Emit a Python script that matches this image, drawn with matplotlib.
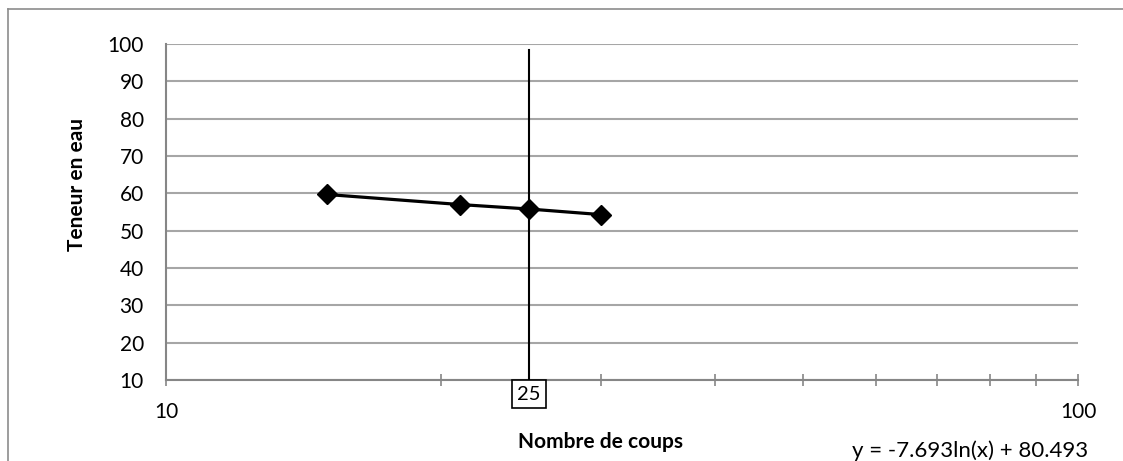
import numpy as np
import matplotlib
matplotlib.use('Agg')
import matplotlib.pyplot as plt
from matplotlib.lines import Line2D
from matplotlib.ticker import FixedLocator, NullFormatter

# data
coups = [15, 21, 25, 30]
teneur = [59.7, 57.0, 55.8, 54.3]
x_limite = 25
y_ticks = [10, 20, 30, 40, 50, 60, 70, 80, 90, 100]
x_major = [10, 100]
x_minor = [20, 25, 30, 40, 50, 60, 70, 80, 90]
equation = 'y = -7.693ln(x) + 80.493'

plt.rcParams['font.family'] = ['Lato', 'DejaVu Sans']

W, H = 1123, 461
fig = plt.figure(figsize=(W / 100, H / 100), dpi=100)
ax = fig.add_axes([166 / W, 1 - 380 / H, (1078 - 166) / W, (380 - 44) / H])

grid_c = '#a6a6a6'
axis_c = '#868686'

ax.set_xscale('log')
ax.set_xlim(10, 100)
ax.set_ylim(10, 100)

ax.set_yticks(y_ticks)
ax.yaxis.grid(True, color=grid_c, linewidth=1.5)
ax.set_axisbelow(True)
ax.tick_params(axis='y', length=0, pad=16, labelsize=15, colors='black')

ax.xaxis.set_major_locator(FixedLocator(x_major))
ax.xaxis.set_minor_locator(FixedLocator([v for v in x_minor if v != x_limite]))
ax.xaxis.set_minor_formatter(NullFormatter())
ax.set_xticklabels([str(v) for v in x_major])
ax.tick_params(axis='x', which='major', direction='inout', length=9, width=1.2, color=axis_c,
               pad=11, labelsize=15)
ax.tick_params(axis='x', which='minor', direction='inout', length=9, width=1.2, color=axis_c)

for s in ['top', 'right']:
    ax.spines[s].set_visible(False)
for s in ['left', 'bottom']:
    ax.spines[s].set_color(axis_c)
    ax.spines[s].set_linewidth(1.5)

ax.plot(coups, teneur, color='black', linewidth=2.3, marker='D', markersize=10,
        markerfacecolor='black', zorder=4)
ax.plot([x_limite, x_limite], [10, 98.5], color='black', linewidth=1.5, zorder=3)

ax.annotate(str(x_limite), xy=(x_limite, 10), xytext=(0, -14), textcoords='offset pixels',
            ha='center', va='center', fontsize=14.5,
            bbox=dict(boxstyle='square,pad=0.25', facecolor='white', edgecolor='black', linewidth=1.2),
            zorder=5, annotation_clip=False)

fig.text(77 / W, 1 - 184 / H, 'Teneur en eau', rotation=90, ha='center', va='center',
         fontsize=15, fontweight='bold')
fig.text(600 / W, 1 - 442 / H, 'Nombre de coups', ha='center', va='center',
         fontsize=15, fontweight='bold')
fig.text(852 / W, 1 - 451 / H, equation, ha='left', va='center', fontsize=16)

# outer chart frame
fig.add_artist(Line2D([8 / W, 8 / W], [0, 1 - 9 / H], color='#8c8c8c', linewidth=1.2,
                      transform=fig.transFigure))
fig.add_artist(Line2D([8 / W, 1], [1 - 9 / H, 1 - 9 / H], color='#8c8c8c', linewidth=1.2,
                      transform=fig.transFigure))

fig.savefig('out.png', dpi=100)
